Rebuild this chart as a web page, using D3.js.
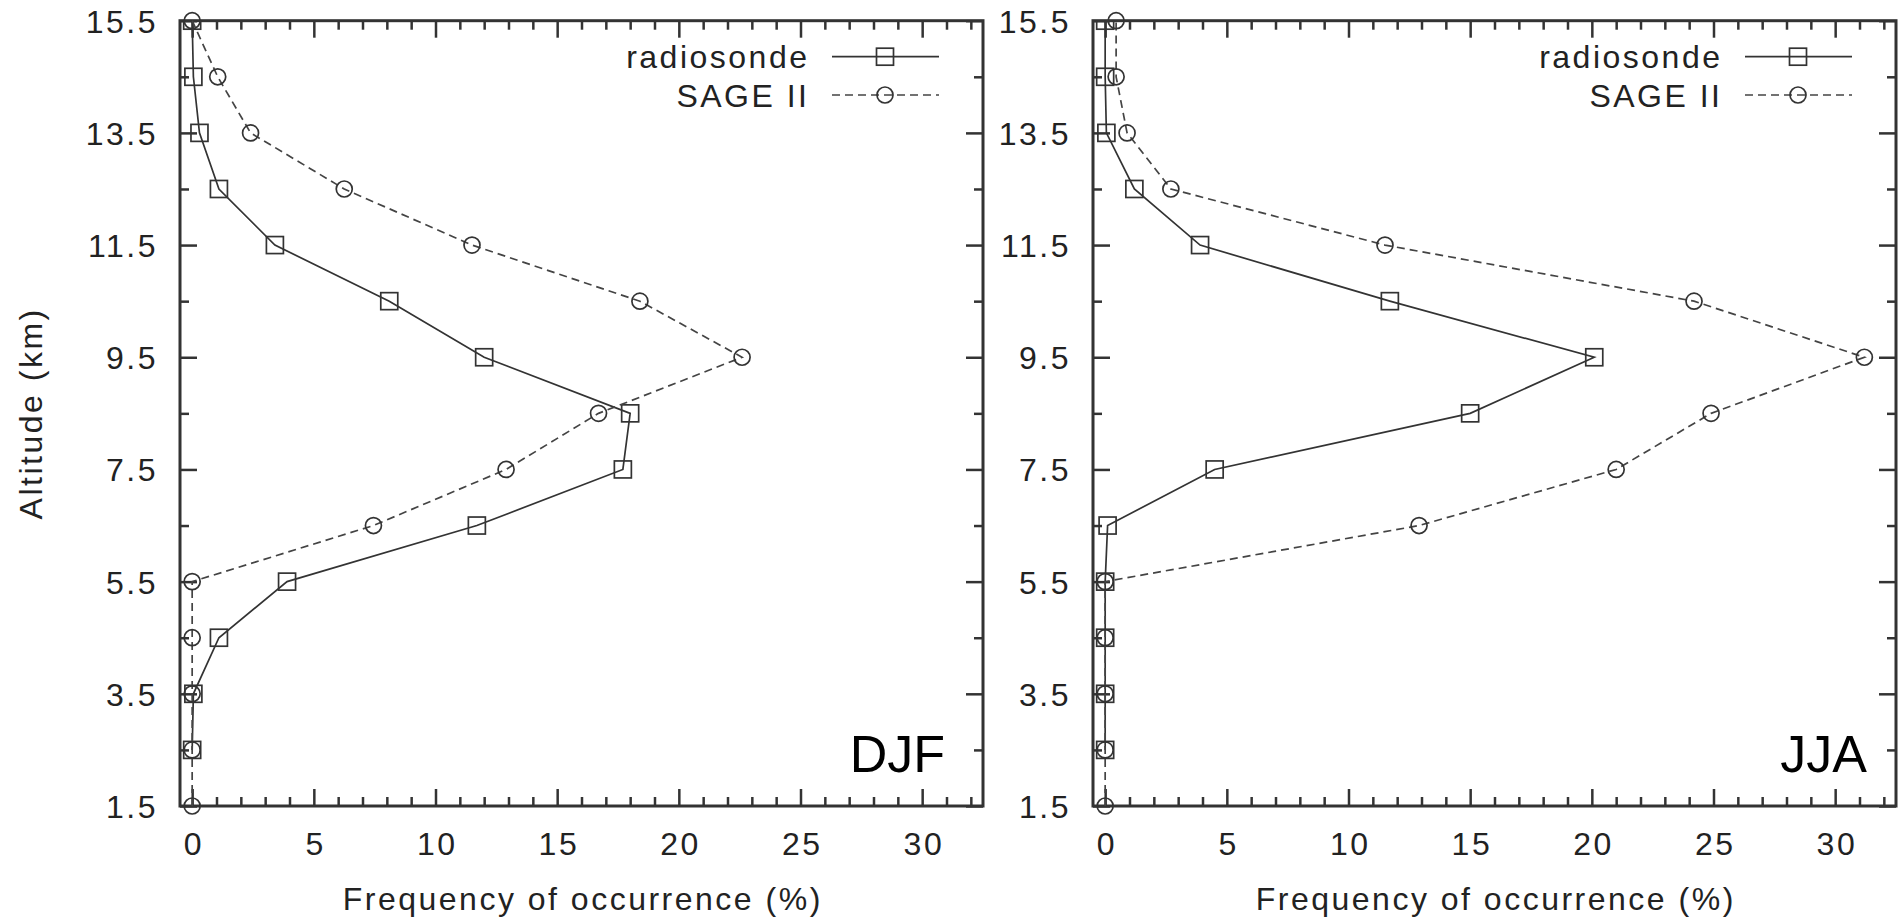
<!DOCTYPE html>
<html>
<head>
<meta charset="utf-8">
<script src="https://cdn.jsdelivr.net/npm/d3@7"></script>
<style>
  html, body { margin: 0; padding: 0; background: #fff; }
  svg { display: block; }
  .lbl { font-family: "Liberation Sans", Arial, Helvetica, sans-serif; font-size: 32px; letter-spacing: 2.5px; fill: #222; }
</style>
</head>
<body>
<svg id="chart" width="1903" height="921"></svg>
<script>
// Altitude levels (km)
const altitudes = [1.5, 2.5, 3.5, 4.5, 5.5, 6.5, 7.5, 8.5, 9.5, 10.5, 11.5, 12.5, 13.5, 14.5, 15.5];

// Frequency of occurrence (%) per altitude level; null = no value at that level
const djfRadiosonde = [null, 0, 0.05, 1.1, 3.9, 11.7, 17.7, 18.0, 12.0, 8.1, 3.4, 1.1, 0.3, 0.05, 0];
const djfSage       = [0, 0, 0, 0, 0, 7.45, 12.9, 16.7, 22.6, 18.4, 11.5, 6.25, 2.4, 1.05, 0];
const jjaRadiosonde = [null, 0, 0, 0, 0, 0.1, 4.5, 15.0, 20.1, 11.7, 3.9, 1.2, 0.05, 0, 0];
const jjaSage       = [0, 0, 0, 0, 0, 12.9, 21.0, 24.9, 31.2, 24.2, 11.5, 2.7, 0.9, 0.45, 0.45];

// Axis ticks
const xTickLabels = [0, 5, 10, 15, 20, 25, 30];
const xMinorTicks = d3.range(0, 33).filter(v => v % 5 !== 0);
const yTickLabels = [1.5, 3.5, 5.5, 7.5, 9.5, 11.5, 13.5, 15.5];
const yMinorTicks = [2.5, 4.5, 6.5, 8.5, 10.5, 12.5, 14.5];

const seriesNames = ["radiosonde", "SAGE II"];
const seasons = ["DJF", "JJA"];

const panels = [
  { season: seasons[0], left: 180,  radiosonde: djfRadiosonde, sage: djfSage, seasonInset: 38 },
  { season: seasons[1], left: 1093, radiosonde: jjaRadiosonde, sage: jjaSage, seasonInset: 29 }
];

const plotW = 803, plotTop = 20.7, plotBottom = 806;
const ink = "#333";
const sq = 17, cr = 8;
const svg = d3.select("#chart");

function toPoints(vals) {
  return altitudes.map((a, i) => ({ alt: a, v: vals[i] })).filter(d => d.v !== null);
}

panels.forEach((p, pi) => {
  const right = p.left + plotW;
  const x = d3.scaleLinear().domain([-0.5, 32.5]).range([p.left, right]);
  const y = d3.scaleLinear().domain([1.5, 15.5]).range([plotBottom, plotTop]);
  const g = svg.append("g");

  const clipId = "clip" + pi;
  svg.append("clipPath").attr("id", clipId)
    .append("rect").attr("x", p.left).attr("y", plotTop).attr("width", plotW).attr("height", plotBottom - plotTop);

  // Axis ticks (inward) on all four sides
  function styleAxis(sel) {
    sel.select(".domain").remove();
    sel.selectAll(".tick line").attr("stroke", ink).attr("stroke-width", 2.5);
    sel.selectAll("text").attr("class", "lbl").attr("fill", null).attr("font-size", null).attr("font-family", null);
  }
  g.append("g").attr("transform", `translate(0,${plotBottom})`)
    .call(d3.axisBottom(x).tickValues(xTickLabels).tickSize(-17).tickSizeOuter(0).tickPadding(26).tickFormat(d3.format("d")))
    .call(styleAxis)
    .call(s => s.selectAll("text").attr("dx", "1.25"));
  g.append("g").attr("transform", `translate(0,${plotBottom})`)
    .call(d3.axisBottom(x).tickValues(xMinorTicks).tickSize(-9).tickSizeOuter(0).tickFormat(""))
    .call(styleAxis);
  g.append("g").attr("transform", `translate(0,${plotTop})`)
    .call(d3.axisTop(x).tickValues(xTickLabels).tickSize(-17).tickSizeOuter(0).tickFormat(""))
    .call(styleAxis);
  g.append("g").attr("transform", `translate(0,${plotTop})`)
    .call(d3.axisTop(x).tickValues(xMinorTicks).tickSize(-9).tickSizeOuter(0).tickFormat(""))
    .call(styleAxis);
  g.append("g").attr("transform", `translate(${p.left},0)`)
    .call(d3.axisLeft(y).tickValues(yTickLabels).tickSize(-17).tickSizeOuter(0).tickPadding(22).tickFormat(d3.format(".1f")))
    .call(styleAxis)
    .call(s => s.selectAll("text").attr("dy", "0.36em"));
  g.append("g").attr("transform", `translate(${p.left},0)`)
    .call(d3.axisLeft(y).tickValues(yMinorTicks).tickSize(-9).tickSizeOuter(0).tickFormat(""))
    .call(styleAxis);
  g.append("g").attr("transform", `translate(${right},0)`)
    .call(d3.axisRight(y).tickValues(yTickLabels).tickSize(-17).tickSizeOuter(0).tickFormat(""))
    .call(styleAxis);
  g.append("g").attr("transform", `translate(${right},0)`)
    .call(d3.axisRight(y).tickValues(yMinorTicks).tickSize(-9).tickSizeOuter(0).tickFormat(""))
    .call(styleAxis);

  // Frame
  g.append("rect").attr("x", p.left).attr("y", plotTop).attr("width", plotW).attr("height", plotBottom - plotTop)
    .attr("fill", "none").attr("stroke", ink).attr("stroke-width", 3);

  const line = d3.line().x(d => x(d.v)).y(d => y(d.alt));

  // radiosonde: solid line with open squares
  const rs = toPoints(p.radiosonde);
  const rg = g.append("g").attr("clip-path", `url(#${clipId})`);
  rg.append("path").datum(rs).attr("d", line)
    .attr("fill", "none").attr("stroke", ink).attr("stroke-width", 1.7);
  rg.selectAll("rect.sq").data(rs).join("rect").attr("class", "sq")
    .attr("x", d => x(d.v) - sq / 2).attr("y", d => y(d.alt) - sq / 2).attr("width", sq).attr("height", sq)
    .attr("fill", "none").attr("stroke", ink).attr("stroke-width", 1.7);

  // SAGE II: dashed line with open circles
  const sg = toPoints(p.sage);
  g.append("path").datum(sg).attr("d", line)
    .attr("fill", "none").attr("stroke", "#444").attr("stroke-width", 1.7).attr("stroke-dasharray", "8,5");
  g.selectAll("circle.ci").data(sg).join("circle").attr("class", "ci")
    .attr("cx", d => x(d.v)).attr("cy", d => y(d.alt)).attr("r", cr)
    .attr("fill", "none").attr("stroke", ink).attr("stroke-width", 1.7);

  // Legend
  const rows = [56.7, 95];
  seriesNames.forEach((name, i) => {
    const ly = rows[i];
    g.append("text").attr("class", "lbl").attr("x", right - 173.5).attr("y", ly).attr("dy", "0.36em")
      .attr("text-anchor", "end").text(name);
    g.append("line").attr("x1", right - 151).attr("x2", right - 44).attr("y1", ly).attr("y2", ly)
      .attr("stroke", i === 0 ? ink : "#444").attr("stroke-width", 1.7)
      .attr("stroke-dasharray", i === 0 ? null : "8,5");
    const mx = right - 98;
    if (i === 0) {
      g.append("rect").attr("x", mx - sq / 2).attr("y", ly - sq / 2).attr("width", sq).attr("height", sq)
        .attr("fill", "none").attr("stroke", ink).attr("stroke-width", 1.7);
    } else {
      g.append("circle").attr("cx", mx).attr("cy", ly).attr("r", cr)
        .attr("fill", "none").attr("stroke", ink).attr("stroke-width", 1.7);
    }
  });

  // Season label
  g.append("text").attr("x", right - p.seasonInset).attr("y", 772).attr("text-anchor", "end")
    .attr("font-family", "'Liberation Sans', Arial, sans-serif").attr("font-size", 52).attr("fill", "#000")
    .text(p.season);

  // Axis titles
  g.append("text").attr("class", "lbl").attr("x", (p.left + right) / 2 + 1.25).attr("y", 910)
    .attr("text-anchor", "middle").text("Frequency of occurrence (%)");
  if (pi === 0) {
    g.append("text").attr("class", "lbl").attr("transform", `translate(42,${(plotTop + plotBottom) / 2}) rotate(-90)`)
      .attr("text-anchor", "middle").text("Altitude (km)");
  }
});
</script>
</body>
</html>
